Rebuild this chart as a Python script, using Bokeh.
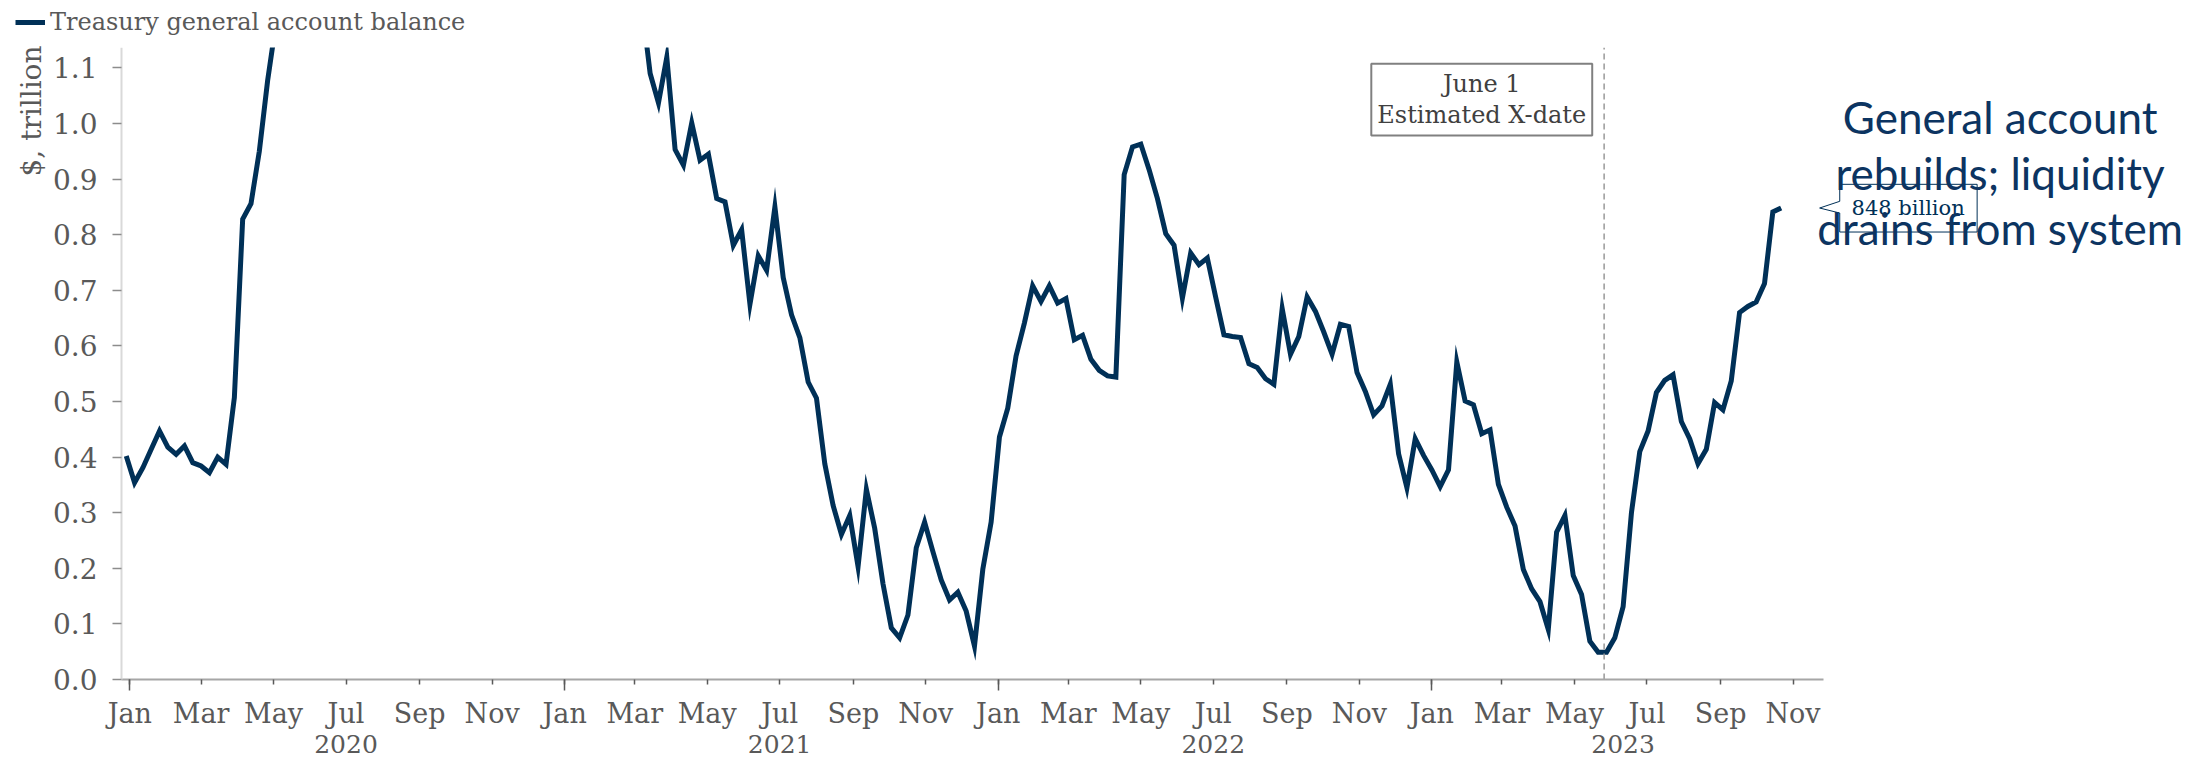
import math
import pandas as pd
from bokeh.plotting import figure
from bokeh.models import (FixedTicker, DatetimeTickFormatter, NumeralTickFormatter, Label,
                          Legend, LegendItem, Range1d, DatetimeAxis, BoxAnnotation)
from bokeh.embed import file_html
from bokeh.resources import INLINE

# ---------------- data ----------------
series_name = "Treasury general account balance"
y_label = "$, trillion"
start_date = "2019-12-29"   # first weekly observation
balance = [
    0.402, 0.354, 0.381, 0.414, 0.447, 0.418, 0.405, 0.420, 0.390, 0.384,
    0.372, 0.400, 0.387, 0.507, 0.828, 0.856, 0.950, 1.077,
    # above the visible range (clipped in the chart)
    1.18, 1.32, 1.44, 1.52, 1.58, 1.55, 1.62, 1.72, 1.80, 1.78,
    1.82, 1.77, 1.72, 1.65, 1.70, 1.74, 1.69, 1.66, 1.72, 1.78,
    1.80, 1.74, 1.70, 1.66, 1.72, 1.75, 1.70, 1.62, 1.60, 1.65,
    1.58, 1.62, 1.68, 1.72, 1.66, 1.60, 1.62, 1.64, 1.58, 1.52,
    1.48, 1.42, 1.38, 1.30, 1.24,
    # visible again
    1.090, 1.037, 1.119, 0.953, 0.925, 1.001, 0.934, 0.945, 0.865, 0.859,
    0.781, 0.809, 0.675, 0.762, 0.736, 0.850, 0.723, 0.656, 0.615, 0.535,
    0.506, 0.388, 0.313, 0.261, 0.295, 0.203, 0.342, 0.272, 0.172, 0.093,
    0.075, 0.116, 0.237, 0.283, 0.230, 0.179, 0.143, 0.157, 0.123, 0.060,
    0.198, 0.283, 0.436, 0.488, 0.582, 0.641, 0.708, 0.680, 0.708, 0.677,
    0.685, 0.611, 0.619, 0.576, 0.556, 0.546, 0.544, 0.908, 0.958, 0.963,
    0.917, 0.865, 0.802, 0.781, 0.686, 0.767, 0.746, 0.758, 0.688, 0.620,
    0.617, 0.615, 0.568, 0.561, 0.541, 0.531, 0.667, 0.585, 0.617, 0.688,
    0.662, 0.625, 0.585, 0.639, 0.635, 0.552, 0.518, 0.476, 0.492, 0.531,
    0.406, 0.345, 0.433, 0.403, 0.377, 0.347, 0.377, 0.571, 0.501, 0.494,
    0.442, 0.449, 0.351, 0.310, 0.276, 0.198, 0.163, 0.140, 0.090, 0.265,
    0.295, 0.187, 0.153, 0.069, 0.049, 0.049, 0.075, 0.131, 0.300, 0.410,
    0.447, 0.516, 0.538, 0.548, 0.464, 0.433, 0.388, 0.414, 0.498, 0.485,
    0.537, 0.660, 0.671, 0.679, 0.712, 0.841, 0.848,
]
dates = pd.date_range(start_date, periods=len(balance), freq="7D")

month_ticks = [
    "2020-01-01", "2020-03-01", "2020-05-01", "2020-07-01", "2020-09-01", "2020-11-01",
    "2021-01-01", "2021-03-01", "2021-05-01", "2021-07-01", "2021-09-01", "2021-11-01",
    "2022-01-01", "2022-03-01", "2022-05-01", "2022-07-01", "2022-09-01", "2022-11-01",
    "2023-01-01", "2023-03-01", "2023-05-01", "2023-07-01", "2023-09-01", "2023-11-01",
]
year_ticks = ["2020-01-01", "2021-01-01", "2022-01-01", "2023-01-01"]
year_label_dates = ["2020-07-01", "2021-07-01", "2022-07-01", "2023-06-11"]
y_ticks = [0.0, 0.1, 0.2, 0.3, 0.4, 0.5, 0.6, 0.7, 0.8, 0.9, 1.0, 1.1]
axis_start, axis_end = "2019-12-25", "2023-11-27"
y_max = 1.1367

xdate = "2023-05-26"
xdate_text = "June 1\nEstimated X-date"
xdate_box_at = ("2023-02-12", 1.043)
callout_text = "848 billion"
note_text = "General account\nrebuilds; liquidity\ndrains from system"

# ---------------- style / geometry ----------------
NAVY = "#003057"
NOTE = "#0c3461"
GRAY = "#595959"
SERIF = "DejaVu Serif"

W, H = 2202, 760
AXIS_PX = 121            # pixel column of the y axis
ZERO_PX = 679            # pixel row of the x axis (value 0)
TOP_PX = 47              # pixel row of the top of the chart area (value y_max)
PX_PER_DAY = 1.188


def ms(d):
    return pd.Timestamp(d).value / 1e6


MSPP = 86400000.0 / PX_PER_DAY         # ms per pixel
x_axis0 = ms(axis_start)
x0 = x_axis0 - AXIS_PX * MSPP
x1 = x0 + W * MSPP
VPP = y_max / (ZERO_PX - TOP_PX)       # value per pixel
y_top = y_max + TOP_PX * VPP
y_bot = -(H - ZERO_PX) * VPP

# values beyond the chart's top are held inside the hidden band above y_max
y_cap = y_top - 4 * VPP
shown = [min(v, y_cap) for v in balance]

p = figure(width=W, height=H, x_axis_type="datetime",
           x_range=Range1d(x0, x1), y_range=Range1d(y_bot, y_top),
           output_backend="svg", toolbar_location=None,
           min_border_left=0, min_border_right=0, min_border_top=0, min_border_bottom=0)
p.outline_line_color = None
p.xgrid.visible = False
p.ygrid.visible = False
p.background_fill_color = "white"
p.border_fill_color = "white"

line = p.line(dates, shown, line_width=5, line_color=NAVY, line_join="miter")

# X-date marker (dashed line from the axis to the top of the chart area)
p.segment(x0=[ms(xdate)], y0=[0], x1=[ms(xdate)], y1=[y_max], line_color="#999999",
          line_dash="6 4", line_width=1.5)

# the chart area ends at y_max: hide what lies above it
p.add_layout(BoxAnnotation(bottom=y_max, top=y_top + 60 * VPP,
                           left=x0 - 60 * MSPP, right=x1 + 60 * MSPP,
                           fill_color="white", fill_alpha=1.0, line_color=None, line_alpha=0))

# x axis (months), drawn at value 0
xa = p.xaxis[0]
xa.fixed_location = 0
xa.ticker = FixedTicker(ticks=[ms(d) for d in month_ticks],
                        minor_ticks=[ms(d) for d in year_ticks])
xa.formatter = DatetimeTickFormatter(milliseconds="%b", seconds="%b", minsec="%b", minutes="%b",
                                     hourmin="%b", hours="%b", days="%b", months="%b", years="%b")
xa.bounds = (x_axis0, ms(axis_end))
xa.axis_line_color = "#a6a6a6"
xa.axis_line_width = 2
xa.major_tick_in = 0
xa.major_tick_out = 5
xa.major_tick_line_color = GRAY
xa.major_tick_line_width = 1.5
xa.minor_tick_in = 0
xa.minor_tick_out = 11
xa.minor_tick_line_color = GRAY
xa.minor_tick_line_width = 1.5
xa.major_label_text_font = SERIF
xa.major_label_text_font_size = "27px"
xa.major_label_text_color = GRAY
xa.major_label_standoff = 7

# second row: years
year_fmt = DatetimeTickFormatter(milliseconds="%Y", seconds="%Y", minsec="%Y", minutes="%Y",
                                 hourmin="%Y", hours="%Y", days="%Y", months="%Y", years="%Y")
yr_axis = DatetimeAxis(fixed_location=0,
                       ticker=FixedTicker(ticks=[ms(d) for d in year_label_dates], minor_ticks=[]),
                       formatter=year_fmt, axis_line_color=None, major_tick_line_color=None,
                       minor_tick_line_color=None, major_tick_out=0, major_tick_in=0,
                       minor_tick_out=0, minor_tick_in=0, major_label_standoff=55,
                       major_label_text_font=SERIF, major_label_text_font_size="25px",
                       major_label_text_color=GRAY)
p.add_layout(yr_axis, "below")

# y axis, drawn at a fixed position inside the canvas
ya = p.yaxis[0]
ya.fixed_location = x_axis0
ya.bounds = (0, y_max)
ya.ticker = FixedTicker(ticks=y_ticks)
ya.formatter = NumeralTickFormatter(format="0.0")
ya.axis_line_color = "#d9d9d9"
ya.axis_line_width = 2
ya.major_tick_in = 0
ya.major_tick_out = 9
ya.major_tick_line_color = "#8c8c8c"
ya.major_tick_line_width = 1.5
ya.minor_tick_line_color = None
ya.major_label_text_font = SERIF
ya.major_label_text_font_size = "28px"
ya.major_label_text_color = GRAY
ya.major_label_standoff = 15

# y axis title at the top of the axis
p.add_layout(Label(x=x_axis0 - 90 * MSPP, y=y_max + 2 * VPP, text=y_label, angle=math.pi / 2,
                   text_align="right", text_baseline="middle", text_font=SERIF,
                   text_font_size="28px", text_color=GRAY))

# X-date box
p.add_layout(Label(x=ms(xdate_box_at[0]), y=xdate_box_at[1], text=xdate_text,
                   text_align="center", text_baseline="middle", text_font=SERIF,
                   text_font_size="24px", text_color="#404040", text_line_height=1.13,
                   background_fill_color="white", border_line_color="#808080",
                   border_line_width=2, padding=6))

# callout for the last value
lx, ly = ms(dates[-1]), balance[-1]
cx = [38.5, 58.6, 58.6, 196, 196, 58.6, 58.6, 38.5]
cy = [0, -6.7, -23.7, -23.7, 24, 24, 5, 0]
p.patch([lx + dx * MSPP for dx in cx], [ly - dy * VPP for dy in cy],
        fill_alpha=0, line_color=NAVY, line_width=1)
p.add_layout(Label(x=lx + 127 * MSPP, y=ly, text=callout_text, text_align="center",
                   text_baseline="middle", text_font=SERIF, text_font_size="21px",
                   text_color=NAVY))

# big note
p.add_layout(Label(x=lx + 219 * MSPP, y=ly + 35.5 * VPP, text=note_text, text_align="center",
                   text_baseline="middle", text_font="Lato", text_font_size="44px",
                   text_color=NOTE, text_line_height=1.06))

# legend in the top-left corner of the page
legend = Legend(items=[LegendItem(label=series_name, renderers=[line])],
                location=(15, H - 37), orientation="horizontal",
                label_text_font=SERIF, label_text_font_size="24px", label_text_color=GRAY,
                label_height=30, glyph_height=30, glyph_width=30, label_standoff=5,
                padding=0, margin=0, spacing=0,
                border_line_color=None, background_fill_alpha=0)
p.add_layout(legend)

open("out.html", "w").write(file_html(p, INLINE))
